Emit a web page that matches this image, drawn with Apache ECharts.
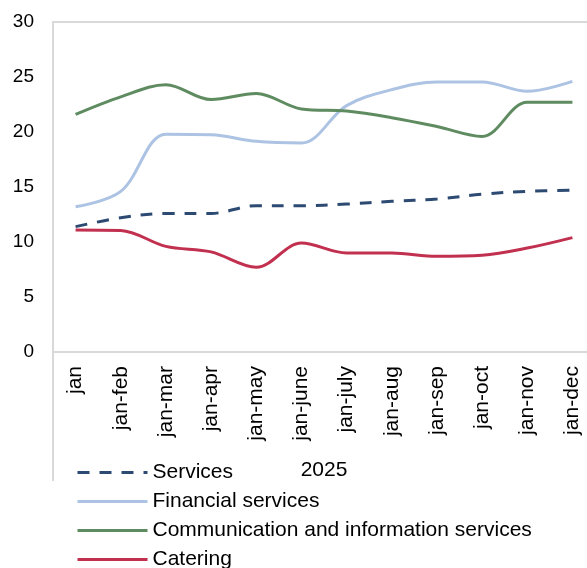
<!DOCTYPE html>
<html>
<head>
<meta charset="utf-8">
<style>
  html, body { margin: 0; padding: 0; background: #fff; overflow: hidden; }
  #chart { width: 600px; height: 620px; }
</style>
<script src="https://cdn.jsdelivr.net/npm/echarts@6/dist/echarts.min.js"></script>
</head>
<body>
<div id="chart"></div>
<script>
// Cumulative periods of 2025
const categories = ['jan', 'jan-feb', 'jan-mar', 'jan-apr', 'jan-may', 'jan-june',
  'jan-july', 'jan-aug', 'jan-sep', 'jan-oct', 'jan-nov', 'jan-dec'];

const services      = [11.4, 12.2, 12.6, 12.6, 13.3, 13.3, 13.45, 13.7, 13.9, 14.35, 14.6, 14.7];
const financial     = [13.2, 14.6, 19.8, 19.75, 19.15, 19.0, 22.4, 23.85, 24.55, 24.55, 23.7, 24.6];
const communication = [21.6, 23.2, 24.3, 22.95, 23.5, 22.1, 21.9, 21.3, 20.5, 19.6, 22.7, 22.7];
const catering      = [11.1, 11.05, 9.6, 9.1, 7.7, 9.9, 9.0, 9.0, 8.7, 8.8, 9.45, 10.4];

const yTicks = { min: 0, max: 30, interval: 5 };
const xTitle = '2025';

const frameColor = '#d9d9d9';
const font = 'Liberation Sans, Arial, sans-serif';

const chart = echarts.init(document.getElementById('chart'), null, { renderer: 'canvas' });

function lineSeries(name, data, color, type) {
  return {
    name: name,
    type: 'line',
    data: data,
    smooth: 0.35,
    symbol: 'none',
    showSymbol: false,
    lineStyle: { color: color, width: 3, type: type || 'solid', cap: 'butt' },
    itemStyle: { color: color },
    emphasis: { disabled: true }
  };
}

chart.setOption({
  animation: false,
  backgroundColor: '#fff',
  grid: {
    left: 53, top: 22, width: 542, height: 330,
    show: true, borderColor: frameColor, borderWidth: 2,
    containLabel: false
  },
  legend: {
    orient: 'vertical',
    left: 71, top: 457,
    itemWidth: 70, itemHeight: 14, itemGap: 8,
    itemStyle: { opacity: 0 },
    lineStyle: { width: 3 },
    textStyle: { fontFamily: font, fontSize: 21, color: '#000' },
    data: ['Services', 'Financial services', 'Communication and information services', 'Catering']
  },
  xAxis: {
    type: 'category',
    data: categories,
    boundaryGap: true,
    name: xTitle,
    nameLocation: 'middle',
    nameGap: 108,
    nameTextStyle: { fontFamily: font, fontSize: 21, color: '#000' },
    axisLine: { show: true, lineStyle: { color: frameColor, width: 2 } },
    axisTick: { show: false },
    axisLabel: { rotate: 90, margin: 14, fontFamily: font, fontSize: 21, color: '#000', interval: 0 },
    splitLine: { show: false }
  },
  yAxis: {
    type: 'value',
    min: yTicks.min, max: yTicks.max, interval: yTicks.interval,
    axisLine: { show: true, lineStyle: { color: frameColor, width: 2 } },
    axisTick: { show: false },
    axisLabel: { margin: 19, fontFamily: font, fontSize: 19, color: '#000' },
    splitLine: { show: false }
  },
  graphic: [{
    // left frame edge continues down past the category labels
    type: 'line',
    shape: { x1: 53, y1: 352, x2: 53, y2: 481 },
    style: { stroke: frameColor, lineWidth: 2 },
    silent: true
  }],
  series: [
    lineSeries('Services', services, '#2d4a72', [12, 10]),
    lineSeries('Financial services', financial, '#adc3e3'),
    lineSeries('Communication and information services', communication, '#5f8b60'),
    lineSeries('Catering', catering, '#c1304f')
  ]
});
</script>
</body>
</html>
